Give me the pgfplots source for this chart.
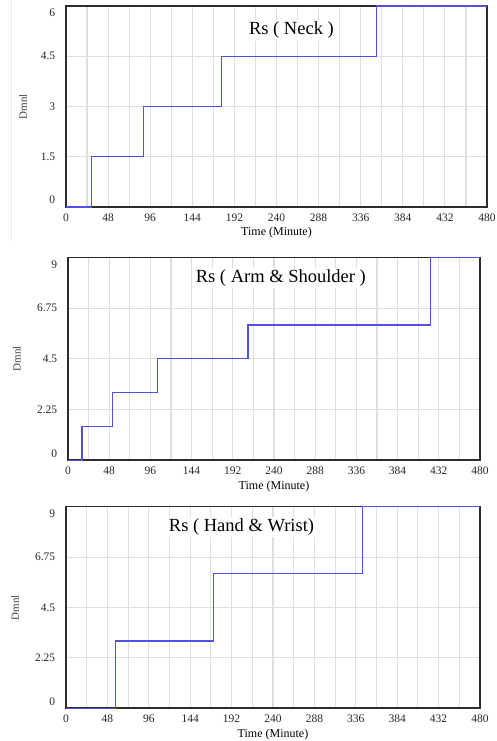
\documentclass[border=0pt]{standalone}
\usepackage{fontspec}
\setmainfont{Liberation Serif}
\usepackage{pgfplots}
\pgfplotsset{compat=1.18}
\definecolor{rsline}{RGB}{80,80,230}
\definecolor{gridc}{RGB}{222,222,222}
\definecolor{framec}{RGB}{45,45,45}

\newcommand{\up}[1]{\raisebox{7pt}[\height][\depth]{#1}}
\newcommand{\dn}[1]{\raisebox{-7pt}[\height][\depth]{#1}}

\pgfplotsset{vensim/.style={
  scale only axis, anchor=south west, xmin=0, xmax=480, ymin=0,
  clip=false, axis line style={framec,line width=1.6pt},
  xtick={0,48,...,480}, minor x tick num=1,
  xmajorgrids, xminorgrids, ymajorgrids,
  major grid style={gridc,line width=1.1pt},
  minor grid style={gridc,line width=1.1pt},
  major tick length=0pt, minor tick length=0pt,
  /pgf/number format/assume math mode=true,
  tick label style={font=\fontsize{11.5}{13}\selectfont,black!85},
  xticklabel style={yshift=-3.3pt},
  yticklabel style={xshift=-7.3pt},
  xlabel={Time (Minute)},
  xlabel style={font=\fontsize{12}{13}\selectfont,at={(axis description cs:0.5,0)},anchor=center,yshift=-26pt},
  ylabel={Dmnl},
  ylabel style={font=\fontsize{11}{12}\selectfont,black!75,anchor=center},
}}

\begin{document}
\begin{tikzpicture}[x=1pt,y=1pt]
\useasboundingbox (0,0) rectangle (497,741);
\draw[black!8,line width=0.8pt] (11,741) -- (11,500);

% Neck
\begin{axis}[vensim, at={(66pt,534pt)}, width=421pt, height=201pt, ymax=6,
  ytick={0,1.5,3,4.5,6}, yticklabels={\up{0},1.5,3,4.5,\dn{6}},
  ylabel style={at={(axis description cs:-0.102,0.5)}}]
\addplot[const plot,rsline,line width=1.2pt] coordinates {(0,0)(29.5,1.5)(88,3)(177,4.5)(354,6)(480,6)};
\node[fill=white,inner sep=2pt,font=\fontsize{18.5}{20}\selectfont] at (axis cs:257,5.28) {Rs ( Neck )};
\end{axis}

% Arm & Shoulder
\begin{axis}[vensim, at={(68pt,280.7pt)}, width=412pt, height=202.8pt, ymax=9,
  ytick={0,2.25,4.5,6.75,9}, yticklabels={\up{0},2.25,4.5,6.75,\dn{9}},
  ylabel style={at={(axis description cs:-0.124,0.5)}}]
\addplot[const plot,rsline,line width=1.2pt] coordinates {(0,0)(16.3,1.5)(52.3,3)(104.7,4.5)(209.7,6)(422,9)(480,9)};
\node[fill=white,inner sep=2pt,font=\fontsize{18.5}{20}\selectfont] at (axis cs:248,8.09) {Rs ( Arm \& Shoulder )};
\end{axis}

% Hand & Wrist
\begin{axis}[vensim, at={(66pt,32.7pt)}, width=414pt, height=201.6pt, ymax=9,
  ytick={0,2.25,4.5,6.75,9}, yticklabels={\up{0},2.25,4.5,6.75,\dn{9}},
  ylabel style={at={(axis description cs:-0.123,0.5)}}]
\addplot[const plot,rsline,line width=1.2pt] coordinates {(0,0)(57.2,3)(171,6)(344,9)(480,9)};
\node[fill=white,inner sep=2pt,font=\fontsize{18.5}{20}\selectfont] at (axis cs:203.5,8.09) {Rs ( Hand \& Wrist)};
\end{axis}
\end{tikzpicture}
\end{document}
